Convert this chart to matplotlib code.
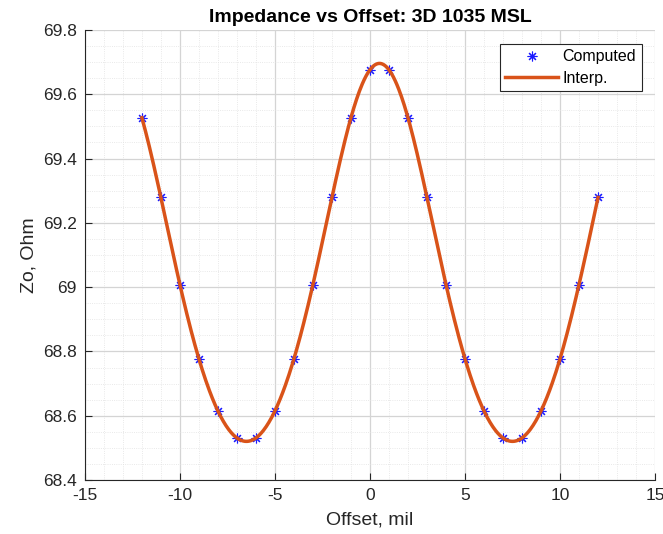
import numpy as np
import matplotlib
matplotlib.use("Agg")
import matplotlib.pyplot as plt
from matplotlib.ticker import MultipleLocator, FuncFormatter

plt.rcParams['font.family'] = ['Liberation Sans', 'DejaVu Sans']
plt.rcParams['axes.unicode_minus'] = False

# computed impedance at each trace offset
offset = [-12, -11, -10, -9, -8, -7, -6, -5, -4, -3, -2, -1, 0,
          1, 2, 3, 4, 5, 6, 7, 8, 9, 10, 11, 12]
zo = [69.527, 69.279, 69.008, 68.777, 68.615, 68.531, 68.531, 68.615,
      68.777, 69.008, 69.279, 69.527, 69.676, 69.676, 69.527, 69.279,
      69.008, 68.777, 68.615, 68.531, 68.531, 68.615, 68.777, 69.008,
      69.279]


def spline_nak(x, y, xq):
    """Cubic spline with not-a-knot end conditions."""
    x = np.asarray(x, float)
    y = np.asarray(y, float)
    n = len(x)
    h = np.diff(x)
    A = np.zeros((n, n))
    b = np.zeros(n)
    for i in range(1, n - 1):
        A[i, i - 1] = h[i - 1]
        A[i, i] = 2 * (h[i - 1] + h[i])
        A[i, i + 1] = h[i]
        b[i] = 6 * ((y[i + 1] - y[i]) / h[i] - (y[i] - y[i - 1]) / h[i - 1])
    A[0, 0], A[0, 1], A[0, 2] = h[1], -(h[0] + h[1]), h[0]
    A[-1, -3], A[-1, -2], A[-1, -1] = h[-1], -(h[-2] + h[-1]), h[-2]
    m = np.linalg.solve(A, b)
    k = np.clip(np.searchsorted(x, xq) - 1, 0, n - 2)
    t = xq - x[k]
    hk = h[k]
    a = y[k]
    bb = (y[k + 1] - y[k]) / hk - hk * (2 * m[k] + m[k + 1]) / 6
    c = m[k] / 2
    d = (m[k + 1] - m[k]) / (6 * hk)
    return a + bb * t + c * t ** 2 + d * t ** 3


xf = np.linspace(offset[0], offset[-1], 500)
zf = spline_nak(offset, zo, xf)

fig = plt.figure(figsize=(6.63, 5.34), dpi=100)
ax = fig.add_axes([0.128, 0.101, 0.86, 0.843])

ax.plot(offset, zo, linestyle='none', marker=(8, 2, 0), color='#1a1aff',
        markersize=7, markeredgewidth=0.8, label='Computed', zorder=2)
ax.plot(xf, zf, color='#D95319', linewidth=2.5, label='Interp.', zorder=3)

ax.set_xlim(-15, 15)
ax.set_ylim(68.4, 69.8)
ax.xaxis.set_major_locator(MultipleLocator(5))
ax.xaxis.set_minor_locator(MultipleLocator(1))
ax.yaxis.set_major_locator(MultipleLocator(0.2))
ax.yaxis.set_minor_locator(MultipleLocator(0.05))
ax.yaxis.set_major_formatter(FuncFormatter(lambda v, p: '%g' % round(v, 2)))

ax.grid(which='major', color='#d4d4d4', linewidth=0.9)
ax.grid(which='minor', color='#e2e2e2', linewidth=0.6, linestyle=':')
ax.set_axisbelow(True)

for s in ('top', 'right'):
    ax.spines[s].set_visible(False)
for s in ('left', 'bottom'):
    ax.spines[s].set_color('#262626')
    ax.spines[s].set_linewidth(0.8)
ax.tick_params(which='major', direction='in', length=5, labelsize=12.5,
               colors='#262626', pad=6)
ax.tick_params(which='minor', length=0)

ax.set_xlabel('Offset, mil', fontsize=14, color='#262626', labelpad=6)
ax.set_ylabel('Zo, Ohm', fontsize=14, color='#262626', labelpad=4)
ax.set_title('Impedance vs Offset: 3D 1035 MSL', fontsize=14,
             fontweight='bold', pad=6)

leg = ax.legend(loc='upper right', bbox_to_anchor=(0.977, 0.969),
                borderaxespad=0, fancybox=False, framealpha=1,
                edgecolor='#262626', fontsize=11.5, handlelength=3.3,
                borderpad=0.35, labelspacing=0.4, handletextpad=0.3)
leg.get_frame().set_linewidth(0.8)

fig.savefig('out.png', dpi=100)
